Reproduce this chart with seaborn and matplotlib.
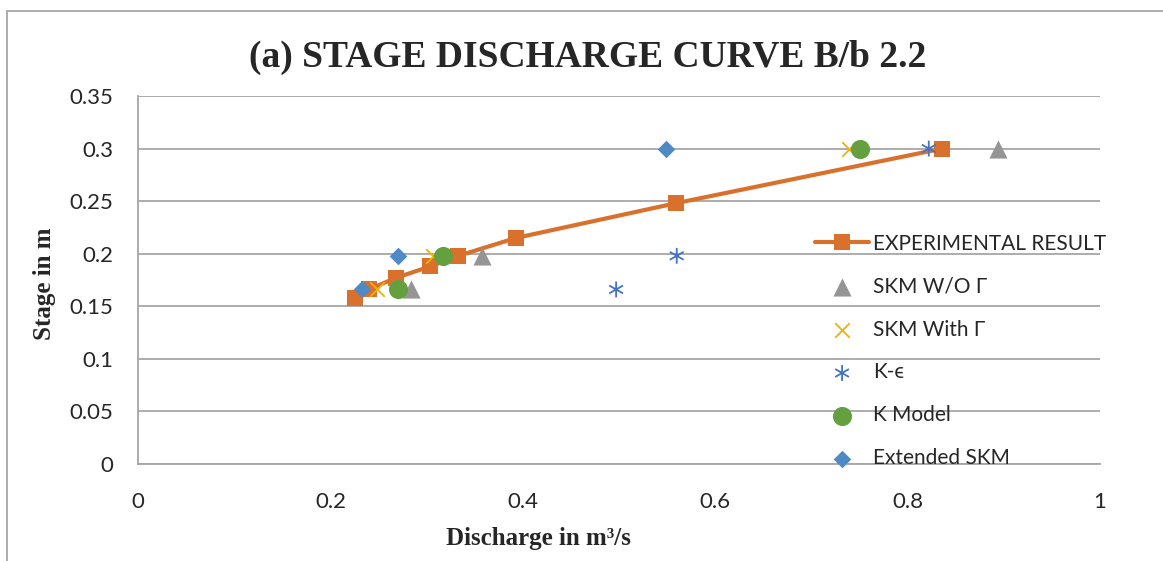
import seaborn as sns
import pandas as pd
import matplotlib.pyplot as plt
from matplotlib.path import Path
from matplotlib.patches import Rectangle

# data
exp_q = [0.226, 0.240, 0.268, 0.304, 0.333, 0.393, 0.559, 0.836]
exp_h = [0.158, 0.166, 0.177, 0.188, 0.198, 0.215, 0.248, 0.300]

model_h = [0.166, 0.198, 0.300]
skm_wo_q = [0.284, 0.358, 0.894]
skm_with_q = [0.248, 0.307, 0.739]
k_eps_q = [0.497, 0.560, 0.822]
k_model_q = [0.270, 0.317, 0.750]
ext_skm_q = [0.233, 0.270, 0.549]

x_ticks = [0, 0.2, 0.4, 0.6, 0.8, 1]
y_ticks = [0, 0.05, 0.1, 0.15, 0.2, 0.25, 0.3, 0.35]

sns.set_style('white')
plt.rcParams['font.family'] = ['Lato', 'DejaVu Sans']

fig = plt.figure(figsize=(11.63, 5.61), dpi=100)
ax = fig.add_axes([138/1163, 1 - 464/561, 962/1163, 368/561])

# excel style asterisk marker
star = Path([(0, -1), (0, 1), (-0.87, -0.5), (0.87, 0.5), (-0.87, 0.5), (0.87, -0.5)],
            [Path.MOVETO, Path.LINETO, Path.MOVETO, Path.LINETO, Path.MOVETO, Path.LINETO])

exp = pd.DataFrame({'q': exp_q, 'h': exp_h})
sns.lineplot(x='q', y='h', data=exp, ax=ax, sort=False, color='#D9712D', linewidth=3,
             marker='s', markersize=11, markeredgewidth=0, label='EXPERIMENTAL RESULT', zorder=3)

sns.scatterplot(x=skm_wo_q, y=model_h, ax=ax, marker='^', s=170, color='#959595',
                linewidth=0, label='SKM W/O Γ', zorder=4)
sns.scatterplot(x=skm_with_q, y=model_h, ax=ax, marker='x', s=110, color='#F2B200',
                linewidth=1.3, label='SKM With Γ', zorder=4)
sns.scatterplot(x=k_eps_q, y=model_h, ax=ax, marker=star, s=130, color='#4472C4',
                facecolor='none', edgecolor='#4472C4', linewidth=1.3, label='K-ϵ', zorder=4)
sns.scatterplot(x=k_model_q, y=model_h, ax=ax, marker='o', s=190, color='#65A040',
                linewidth=0, label='K Model', zorder=4)
sns.scatterplot(x=ext_skm_q, y=model_h, ax=ax, marker='D', s=80, color='#4E8BC6',
                linewidth=0, label='Extended SKM', zorder=4)

ax.set_xlim(0, 1)
ax.set_ylim(0, 0.35)
ax.set_xticks(x_ticks)
ax.set_yticks(y_ticks)
ax.set_xticklabels(['%g' % t for t in x_ticks])
ax.set_yticklabels(['%g' % t for t in y_ticks])
ax.tick_params(axis='both', labelsize=16, length=8, color='#A6A6A6', width=1.2,
               direction='out')
ax.tick_params(axis='y', pad=10)
ax.tick_params(axis='x', pad=12)
ax.grid(axis='y', color='#A6A6A6', linewidth=1.3)
ax.set_axisbelow(True)
for side in ['top', 'right']:
    ax.spines[side].set_visible(False)
for side in ['left', 'bottom']:
    ax.spines[side].set_color('#A6A6A6')
    ax.spines[side].set_linewidth(1.3)

ax.set_xlabel('Discharge in m³/s', family='Liberation Serif', fontweight='bold', fontsize=18)
ax.set_ylabel('Stage in m', family='Liberation Serif', fontweight='bold', fontsize=18)
ax.xaxis.set_label_coords(0.416, -0.17)
ax.yaxis.set_label_coords(-0.085, 0.49)

fig.text(588/1163, 1 - 57/561, '(a) STAGE DISCHARGE CURVE B/b 2.2', ha='center', va='center',
         family='Liberation Serif', fontweight='bold', fontsize=27)

ax.legend(loc='center left', bbox_to_anchor=(815/1163, 1 - 351/561), bbox_transform=fig.transFigure,
          frameon=False, fontsize=15, handlelength=2.6, handletextpad=0.2, labelspacing=1.1,
          borderpad=0, borderaxespad=0)

# chart area border
fig.patches.append(Rectangle((7/1163, -0.1), 1.2, 1 - 11/561 + 0.1, transform=fig.transFigure,
                             fill=False, edgecolor='#A6A6A6', linewidth=1.3))

fig.savefig('out.png', dpi=100)
